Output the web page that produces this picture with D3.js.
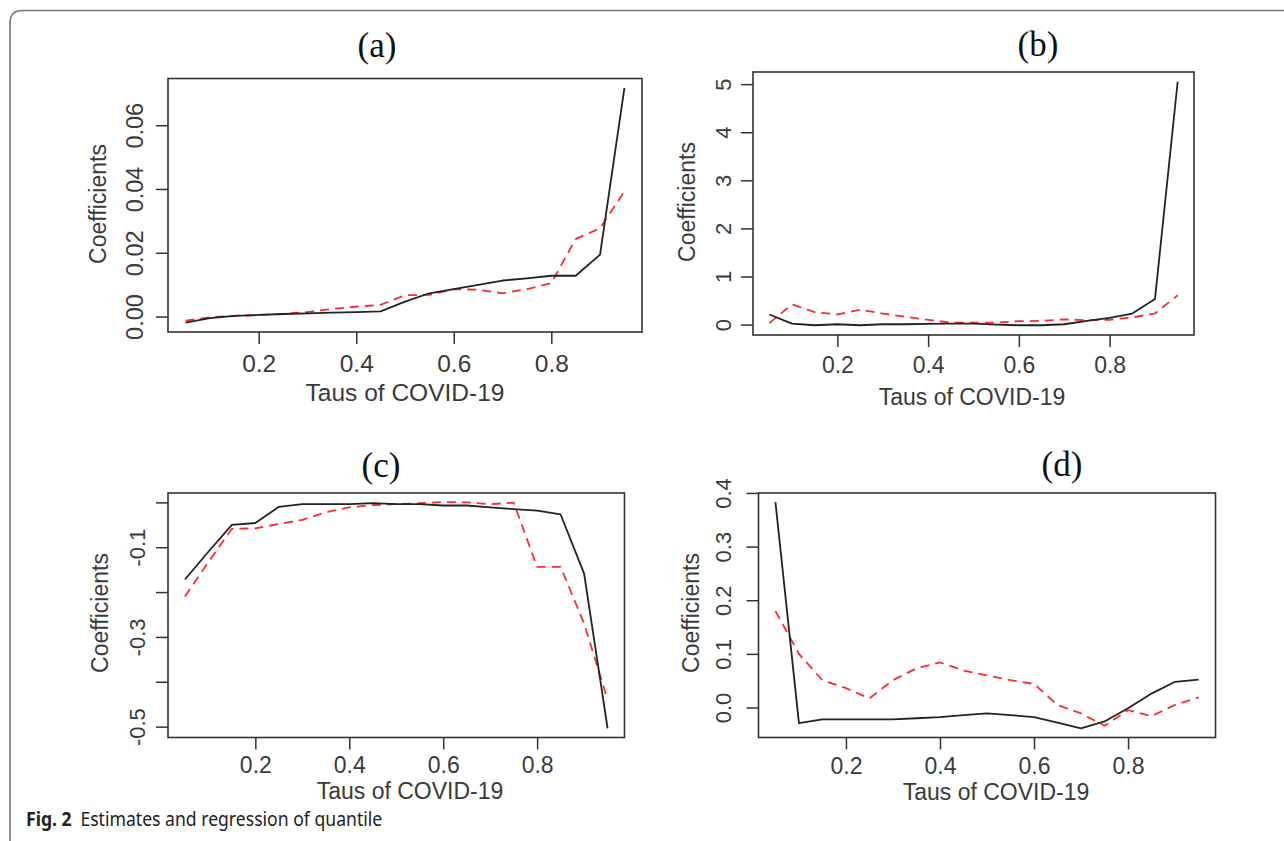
<!DOCTYPE html>
<html>
<head>
<meta charset="utf-8">
<script src="https://cdn.jsdelivr.net/npm/d3@7"></script>
<style>
  html, body { margin: 0; padding: 0; background: #fff; }
  svg { display: block; }
</style>
</head>
<body>
<svg id="fig" width="1284" height="841"></svg>
<script>
// Quantile regression estimates - four panels (a)-(d)
(function() {
  'use strict';

  // --- data ---
  var taus = [0.05, 0.10, 0.15, 0.20, 0.25, 0.30, 0.35, 0.40, 0.45, 0.50,
              0.55, 0.60, 0.65, 0.70, 0.75, 0.80, 0.85, 0.90, 0.95];

  var aSolid  = [-0.0019, -0.0005, 0.0002, 0.0005, 0.0008, 0.0010, 0.0012, 0.0014, 0.0016, 0.0047,
                 0.0073, 0.0086, 0.0099, 0.0113, 0.0120, 0.0128, 0.0128, 0.0194, 0.0717];
  var aDashed = [-0.0013, -0.0002, 0.0002, 0.0005, 0.0008, 0.0014, 0.0024, 0.0031, 0.0037, 0.0067,
                 0.0068, 0.0086, 0.0084, 0.0073, 0.0086, 0.0105, 0.0243, 0.0277, 0.0393];

  var bSolid  = [0.21, 0.02, -0.014, 0.007, -0.014, 0.007, 0.007, 0.014, 0.02, 0.02,
                 0.0, -0.014, -0.014, 0.007, 0.076, 0.14, 0.23, 0.53, 5.05];
  var bDashed = [0.03, 0.42, 0.26, 0.21, 0.31, 0.23, 0.16, 0.10, 0.04, 0.04,
                 0.04, 0.07, 0.076, 0.11, 0.09, 0.10, 0.15, 0.23, 0.61];

  var cSolid  = [-0.172, -0.110, -0.050, -0.046, -0.010, -0.004, -0.004, -0.004, -0.0015, -0.004,
                 -0.004, -0.007, -0.007, -0.011, -0.015, -0.0185, -0.027, -0.159, -0.504];
  var cDashed = [-0.210, -0.133, -0.059, -0.058, -0.048, -0.039, -0.022, -0.011, -0.006, -0.004,
                 -0.002, 0.0007, 0.0, -0.004, -0.0007, -0.144, -0.144, -0.270, -0.440];

  var dSolid  = [0.383, -0.029, -0.022, -0.022, -0.022, -0.022, -0.020, -0.018, -0.014, -0.011,
                 -0.014, -0.018, -0.028, -0.039, -0.026, -0.0015, 0.026, 0.048, 0.052];
  var dDashed = [0.180, 0.100, 0.051, 0.036, 0.017, 0.051, 0.073, 0.084, 0.069, 0.060,
                 0.051, 0.044, 0.0046, -0.011, -0.034, -0.005, -0.016, 0.005, 0.019];

  var xTicks = [0.2, 0.4, 0.6, 0.8];
  var xTickLabels = ['0.2', '0.4', '0.6', '0.8'];

  var aYTicks = [0, 0.02, 0.04, 0.06];
  var aYLabels = ['0.00', '0.02', '0.04', '0.06'];
  var bYTicks = [0, 1, 2, 3, 4, 5];
  var bYLabels = ['0', '1', '2', '3', '4', '5'];
  var cYTicks = [0, -0.1, -0.2, -0.3, -0.4, -0.5];
  var cYLabels = ['', '-0.1', '', '-0.3', '', '-0.5'];
  var dYTicks = [0, 0.1, 0.2, 0.3, 0.4];
  var dYLabels = ['0.0', '0.1', '0.2', '0.3', '0.4'];

  var panelTitles = ['(a)', '(b)', '(c)', '(d)'];
  var xTitle = 'Taus of COVID-19';
  var yTitle = 'Coefficients';

  // --- layout (pixel boxes of each plot); fs = text size of that panel ---
  var layout = [
    { left: 168, top: 78.5, right: 642, bottom: 332, tX: 377, tY: 57, fs: 24.5,
      xlX: 405, xlY: 401, ylX: 106, ylY: 204, yTickX: 143, xTickY: 372 },
    { left: 753, top: 72, right: 1194, bottom: 335, tX: 1038, tY: 56, fs: 23,
      xlX: 972, xlY: 405, ylX: 695, ylY: 202, yTickX: 731, xTickY: 373 },
    { left: 168, top: 493, right: 624.5, bottom: 737.5, tX: 381, tY: 477, fs: 23,
      xlX: 410, xlY: 799, ylX: 108, ylY: 613, yTickX: 144.5, xTickY: 772.5 },
    { left: 758.5, top: 493, right: 1215.5, bottom: 737.5, tX: 1062, tY: 476, fs: 23,
      xlX: 996, xlY: 800, ylX: 699, ylY: 613, yTickX: 731, xTickY: 773.5 }
  ];

  var panels = [
    { solid: aSolid, dashed: aDashed, yTicks: aYTicks, yLabels: aYLabels },
    { solid: bSolid, dashed: bDashed, yTicks: bYTicks, yLabels: bYLabels },
    { solid: cSolid, dashed: cDashed, yTicks: cYTicks, yLabels: cYLabels },
    { solid: dSolid, dashed: dDashed, yTicks: dYTicks, yLabels: dYLabels }
  ];

  var svg = d3.select('#fig');
  var textColor = '#3a3a3a';
  var sans = 'Liberation Sans, Arial, sans-serif';

  // outer frame (open on the right and bottom, rounded top-left corner)
  svg.append('path')
    .attr('d', 'M10,850 L10,23 Q10,10.5 22.5,10.5 L1290,10.5')
    .attr('fill', 'none').attr('stroke', '#777').attr('stroke-width', 1.6);

  // R-style padded range (4% each side)
  function rangePad(vals) {
    var ext = d3.extent(vals);
    var r = ext[1] - ext[0];
    return [ext[0] - 0.04 * r, ext[1] + 0.04 * r];
  }

  var xDomain = rangePad(taus);

  panels.forEach(function(p, i) {
    var L = layout[i];
    var x = d3.scaleLinear().domain(xDomain).range([L.left, L.right]);
    var y = d3.scaleLinear().domain(rangePad(p.solid.concat(p.dashed))).range([L.bottom, L.top]);
    var g = svg.append('g');

    // title
    g.append('text').attr('x', L.tX).attr('y', L.tY).attr('text-anchor', 'middle')
      .attr('font-family', 'Liberation Serif, Times New Roman, serif').attr('font-size', 35)
      .attr('fill', '#111').text(panelTitles[i]);

    // x axis
    var xa = g.append('g').attr('transform', 'translate(0,' + L.bottom + ')')
      .call(d3.axisBottom(x).tickValues(xTicks).tickSize(12)
        .tickFormat(function(d, k) { return xTickLabels[k]; }));
    xa.select('.domain').remove();
    xa.selectAll('line').attr('stroke', '#333').attr('stroke-width', 1.5);
    xa.selectAll('text').attr('y', L.xTickY - L.bottom).attr('dy', null)
      .attr('font-family', sans).attr('font-size', L.fs).attr('fill', textColor);

    // y axis
    var ya = g.append('g').attr('transform', 'translate(' + L.left + ',0)')
      .call(d3.axisLeft(y).tickValues(p.yTicks).tickSize(12)
        .tickFormat(function(d, k) { return p.yLabels[k]; }));
    ya.select('.domain').remove();
    ya.selectAll('line').attr('stroke', '#333').attr('stroke-width', 1.5);
    ya.selectAll('text').attr('x', null).attr('dy', null)
      .attr('transform', 'translate(' + (L.yTickX - L.left) + ',0) rotate(-90)')
      .attr('text-anchor', 'middle')
      .attr('font-family', sans).attr('font-size', L.fs - 1).attr('fill', textColor);

    // axis titles
    g.append('text').attr('x', L.xlX).attr('y', L.xlY).attr('text-anchor', 'middle')
      .attr('font-family', sans).attr('font-size', L.fs).attr('fill', textColor).text(xTitle);
    g.append('text').attr('transform', 'translate(' + L.ylX + ',' + L.ylY + ') rotate(-90)')
      .attr('text-anchor', 'middle')
      .attr('font-family', sans).attr('font-size', 23).attr('fill', textColor).text(yTitle);

    // lines
    var line = function(vals) {
      return d3.line().x(function(d, k) { return x(taus[k]); }).y(function(d) { return y(d); })(vals);
    };
    g.append('path').attr('d', line(p.dashed)).attr('fill', 'none')
      .attr('stroke', '#ff2a2a').attr('stroke-width', 1.8).attr('stroke-dasharray', '9,6');
    g.append('path').attr('d', line(p.solid)).attr('fill', 'none')
      .attr('stroke', '#222').attr('stroke-width', 1.8).attr('stroke-linejoin', 'round');

    // plot box
    g.append('rect').attr('x', L.left).attr('y', L.top)
      .attr('width', L.right - L.left).attr('height', L.bottom - L.top)
      .attr('fill', 'none').attr('stroke', '#333').attr('stroke-width', 1.6);
  });

  // caption (condensed look)
  var cap = svg.append('text').attr('transform', 'translate(26,826) scale(0.88,1)')
    .attr('font-family', 'Noto Sans, Open Sans, sans-serif').attr('font-size', 20).attr('fill', '#222');
  cap.append('tspan').attr('font-weight', 'bold').text('Fig. 2');
  cap.append('tspan').attr('dx', 10).text('Estimates and regression of quantile');
})();
</script>
</body>
</html>
